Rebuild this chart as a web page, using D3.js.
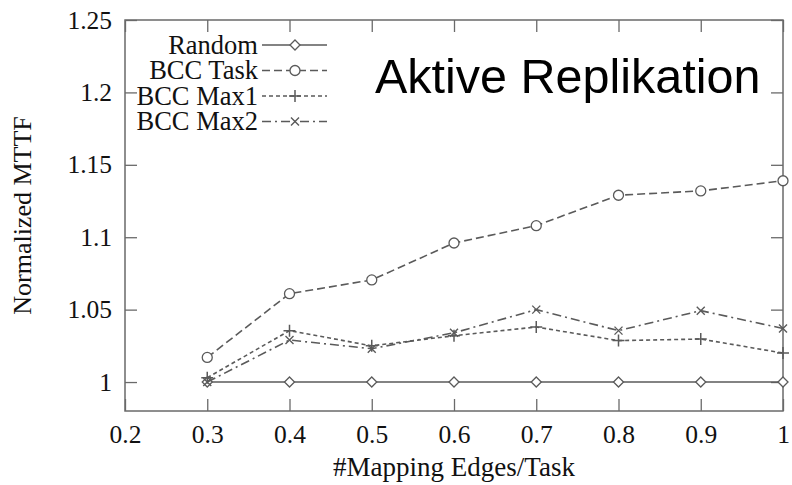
<!DOCTYPE html>
<html>
<head>
<meta charset="utf-8">
<script src="https://cdn.jsdelivr.net/npm/d3@7"></script>
<style>
    body { margin: 0; background: #fff; }
    svg { display: block; }
</style>
</head>
<body>
<svg width="792" height="485"></svg>
<script>
(function () {
    'use strict';

    // data
    var edgesPerTask = [0.3, 0.4, 0.5, 0.6, 0.7, 0.8, 0.9, 1.0];
    var randomMttf   = [1.0, 1.0, 1.0, 1.0, 1.0, 1.0, 1.0, 1.0];
    var bccTaskMttf  = [1.017, 1.061, 1.0705, 1.096, 1.108, 1.129, 1.132, 1.139];
    var bccMax1Mttf  = [1.003, 1.0355, 1.025, 1.032, 1.038, 1.0286, 1.0297, 1.020];
    var bccMax2Mttf  = [1.0, 1.029, 1.023, 1.034, 1.050, 1.0355, 1.0493, 1.037];
    var xTicks = [0.2, 0.3, 0.4, 0.5, 0.6, 0.7, 0.8, 0.9, 1];
    var yTicks = [1, 1.05, 1.1, 1.15, 1.2, 1.25];
    var seriesNames = ['Random', 'BCC Task', 'BCC Max1', 'BCC Max2'];

    var series = [
        { name: seriesNames[0], values: randomMttf,  dash: null,      marker: 'diamond' },
        { name: seriesNames[1], values: bccTaskMttf, dash: '8,4',     marker: 'circle' },
        { name: seriesNames[2], values: bccMax1Mttf, dash: '4,3',     marker: 'plus' },
        { name: seriesNames[3], values: bccMax2Mttf, dash: '9,4,2,4', marker: 'cross' }
    ];

    var svg = d3.select("svg"),
        margin = {top: 20, right: 9, bottom: 74, left: 125},
        width = +svg.attr("width") - margin.left - margin.right,
        height = +svg.attr("height") - margin.top - margin.bottom,
        g = svg.append("g").attr("transform", "translate(" + margin.left + "," + margin.top + ")");

    var serif = "'Liberation Serif', 'Times New Roman', serif";
    var frameColor = "#6a6a6a";
    var lineColor = "#5a5a5a";

    var x = d3.scaleLinear().domain([0.2, 1]).range([0, width]);
    var y = d3.scaleLinear().domain([0.98, 1.25]).range([height, 0]);

    var tickLen = 12;

    // bottom axis, ticks pointing inward
    var bottom = g.append("g")
        .attr("transform", "translate(0," + height + ")")
        .call(d3.axisBottom(x).tickValues(xTicks).tickSizeInner(-tickLen).tickSizeOuter(0)
            .tickPadding(14).tickFormat(function (d) { return d === 1 ? "1" : d3.format(".1f")(d); }));
    // top mirror ticks
    var top = g.append("g")
        .call(d3.axisTop(x).tickValues(xTicks).tickSizeInner(-tickLen).tickSizeOuter(0).tickFormat(""));
    // left axis
    var left = g.append("g")
        .call(d3.axisLeft(y).tickValues(yTicks).tickSizeInner(-tickLen).tickSizeOuter(0)
            .tickPadding(13).tickFormat(function (d) { return d === 1 ? "1" : String(+d.toFixed(2)); }));
    // right mirror ticks
    var right = g.append("g")
        .attr("transform", "translate(" + width + ",0)")
        .call(d3.axisRight(y).tickValues(yTicks).tickSizeInner(-tickLen).tickSizeOuter(0).tickFormat(""));

    [bottom, top, left, right].forEach(function (ax) {
        ax.select(".domain").remove();
        ax.selectAll(".tick line").attr("stroke", frameColor).attr("stroke-width", 1.3);
        ax.selectAll(".tick text").attr("fill", "#111").style("font-family", serif).style("font-size", "25.5px");
    });

    g.append("rect")
        .attr("width", width)
        .attr("height", height)
        .attr("fill", "none")
        .attr("stroke", frameColor)
        .attr("stroke-width", 1.5);

    var line = d3.line()
        .x(function (d) { return x(d[0]); })
        .y(function (d) { return y(d[1]); });

    function drawMarker(sel, type) {
        sel.attr("fill", "none").attr("stroke", lineColor).attr("stroke-width", 1.3);
        if (type === 'diamond') {
            sel.append("path").attr("d", "M0,-5L5,0L0,5L-5,0Z").attr("fill", "#fff");
        } else if (type === 'circle') {
            sel.append("circle").attr("r", 5).attr("fill", "#fff");
        } else if (type === 'plus') {
            sel.append("path").attr("d", "M-6,0H6M0,-6V6").attr("stroke-width", 1.5);
        } else {
            sel.append("path").attr("d", "M-4,-4L4,4M-4,4L4,-4").attr("stroke-width", 1.4);
        }
    }

    series.forEach(function (s) {
        var pts = edgesPerTask.map(function (e, i) { return [e, s.values[i]]; });

        g.append("path")
            .datum(pts)
            .attr("fill", "none")
            .attr("stroke", lineColor)
            .attr("stroke-width", 1.6)
            .attr("stroke-dasharray", s.dash)
            .attr("d", line);

        g.selectAll(null)
            .data(pts)
            .enter().append("g")
            .attr("transform", function (d) { return "translate(" + x(d[0]) + "," + y(d[1]) + ")"; })
            .each(function () { drawMarker(d3.select(this), s.marker); });
    });

    // legend
    var legend = g.append("g");
    series.forEach(function (s, i) {
        var row = legend.append("g").attr("transform", "translate(0," + (25 + i * 25.5) + ")");
        row.append("text")
            .attr("x", 133)
            .attr("dy", "0.33em")
            .attr("text-anchor", "end")
            .attr("fill", "#111")
            .style("font-family", serif)
            .style("font-size", "26.5px")
            .text(s.name);
        row.append("line")
            .attr("x1", 137).attr("x2", 202)
            .attr("stroke", lineColor)
            .attr("stroke-width", 1.6)
            .attr("stroke-dasharray", s.dash);
        row.append("g")
            .attr("transform", "translate(170,0)")
            .call(drawMarker, s.marker);
    });

    // overlay title
    g.append("text")
        .attr("x", 250)
        .attr("y", 73)
        .attr("fill", "#000")
        .style("font-family", "'Liberation Sans', Arial, sans-serif")
        .style("font-size", "48.5px")
        .text("Aktive Replikation");

    // axis labels
    svg.append("text")
        .attr("x", margin.left + width / 2)
        .attr("y", 476)
        .attr("text-anchor", "middle")
        .attr("fill", "#111")
        .style("font-family", serif)
        .style("font-size", "27px")
        .text("#Mapping Edges/Task");

    svg.append("text")
        .attr("transform", "translate(31," + (margin.top + height / 2) + ") rotate(-90)")
        .attr("text-anchor", "middle")
        .attr("fill", "#111")
        .style("font-family", serif)
        .style("font-size", "26px")
        .text("Normalized MTTF");
})();
</script>
</body>
</html>
